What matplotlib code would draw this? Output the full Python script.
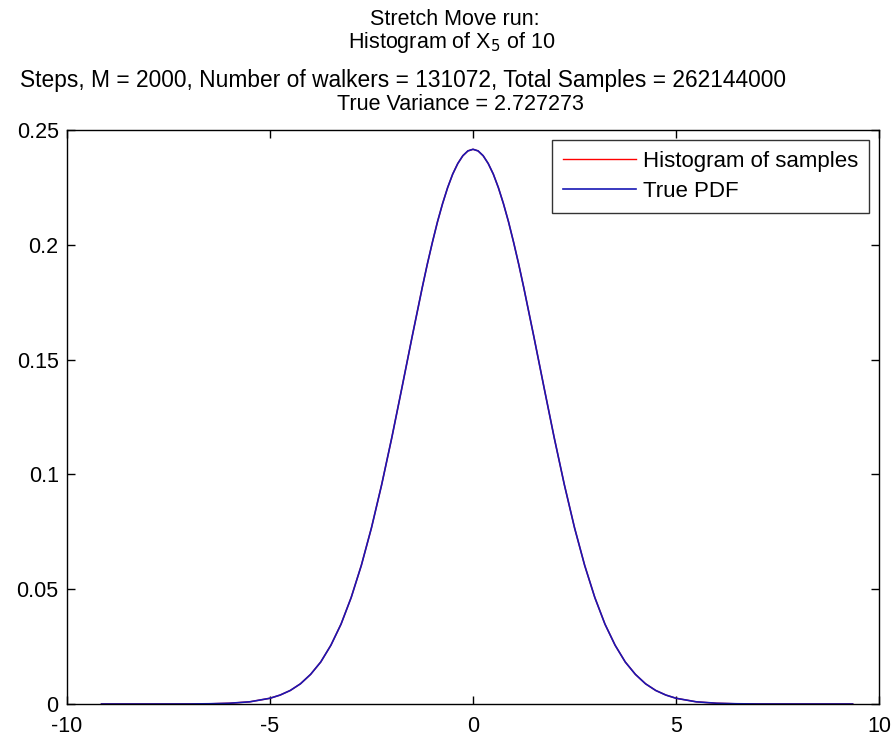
import numpy as np
import matplotlib
matplotlib.use("Agg")
from matplotlib import pyplot as plt

plt.rcParams['font.family'] = ['Liberation Sans', 'DejaVu Sans']
plt.rcParams['axes.unicode_minus'] = False

# values (histogram and true pdf coincide)
x_vals = [-9.15, -8.0, -7.0, -6.5, -6.0, -5.5, -5.0, -4.75, -4.5, -4.25, -4.0, -3.75, -3.5,
          -3.25, -3.0, -2.75, -2.5, -2.25, -2.0, -1.75, -1.5, -1.25, -1.125, -1.0, -0.875,
          -0.75, -0.625, -0.5, -0.375, -0.25, -0.125, 0.0, 0.125, 0.25, 0.375, 0.5, 0.625,
          0.75, 0.875, 1.0, 1.125, 1.25, 1.5, 1.75, 2.0, 2.25, 2.5, 2.75, 3.0,
          3.25, 3.5, 3.75, 4.0, 4.25, 4.5, 4.75, 5.0, 5.5, 6.0, 6.5, 7.0, 8.0, 9.35]
pdf_vals = [0.0, 0.0, 0.00002, 0.00010, 0.00033, 0.00095, 0.0025, 0.0039, 0.0059, 0.0088,
            0.0129, 0.0183, 0.0256, 0.0348, 0.0464, 0.0604, 0.0768, 0.0955, 0.1160, 0.1378,
            0.1599, 0.1814, 0.1916, 0.2011, 0.2100, 0.2179, 0.2249, 0.2308, 0.2354, 0.2388,
            0.2409, 0.2416, 0.2409, 0.2388, 0.2354, 0.2308, 0.2249, 0.2179, 0.2100, 0.2011,
            0.1916, 0.1814, 0.1599, 0.1378, 0.1160, 0.0955, 0.0768, 0.0604, 0.0464, 0.0348,
            0.0256, 0.0183, 0.0129, 0.0088, 0.0059, 0.0039, 0.0025, 0.00095, 0.00033,
            0.00010, 0.00002, 0.0, 0.0]
hist_vals = list(pdf_vals)

x_ticks = [-10, -5, 0, 5, 10]
y_ticks = [0, 0.05, 0.1, 0.15, 0.2, 0.25]
y_labels = ['0', '0.05', '0.1', '0.15', '0.2', '0.25']

W, H = 892, 736
fig = plt.figure(figsize=(W / 100, H / 100), dpi=100)
ax = fig.add_axes([67 / W, 1 - 704 / H, 812 / W, 574 / H])

ax.plot(x_vals, hist_vals, color='red', lw=1.0, label='Histogram of samples')
ax.plot(x_vals, pdf_vals, color='#1818b4', lw=1.2, label='True PDF')

ax.set_xlim(-10, 10)
ax.set_ylim(0, 0.25)
ax.set_xticks(x_ticks)
ax.set_yticks(y_ticks)
ax.set_yticklabels(y_labels)
ax.tick_params(direction='in', length=6, width=1, top=True, right=True,
               labelsize=15.5)
ax.tick_params(axis='y', pad=6)
ax.tick_params(axis='x', pad=9)
for s in ax.spines.values():
    s.set_linewidth(1.0)

# title lines, placed one by one like the original
fig.text(455 / W, 1 - 25 / H, 'Stretch Move run:', fontsize=15.5, ha='center', va='baseline')
fig.text(452 / W, 1 - 48 / H, 'Histogram of X$_5$ of 10', fontsize=15.5, ha='center', va='baseline')
fig.text(20 / W, 1 - 87 / H,
         'Steps, M = 2000, Number of walkers = 131072, Total Samples = 262144000',
         fontsize=16.4, ha='left', va='baseline')
fig.text(460 / W, 1 - 110 / H, 'True Variance = 2.727273', fontsize=15.5, ha='center', va='baseline')

leg = ax.legend(loc='upper right', fontsize=16, frameon=True, fancybox=False,
                edgecolor='black', borderaxespad=0.45, handlelength=3.3,
                handletextpad=0.3, labelspacing=0.38, borderpad=0.5)
leg.get_frame().set_linewidth(1.0)

fig.savefig('out.png', dpi=100)
